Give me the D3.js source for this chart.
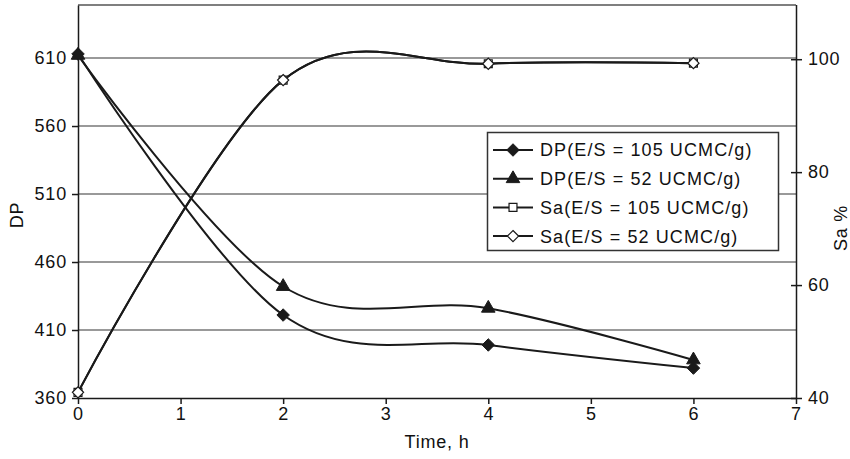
<!DOCTYPE html>
<html>
<head>
<meta charset="utf-8">
<title>DP and Sa vs time</title>
<script src="https://d3js.org/d3.v7.min.js"></script>
<style>
  body { margin: 0; background: #fff; }
  svg text { font-family: "Liberation Sans", Arial, sans-serif; fill: #111; }
</style>
</head>
<body>
<div id="chart"></div>
<script>
// data
var hours = [0, 2, 4, 6];
var dp105 = [613, 421, 399, 382];
var dp52 = [612, 442, 426, 388];
var sa105 = [41, 96.3, 99.2, 99.3];
var sa52 = [41, 96.3, 99.2, 99.3];
var dpTicks = [360, 410, 460, 510, 560, 610];
var saTicks = [40, 60, 80, 100];
var timeTicks = [0, 1, 2, 3, 4, 5, 6, 7];
var legendLabels = ["DP(E/S = 105 UCMC/g)", "DP(E/S = 52 UCMC/g)",
                    "Sa(E/S = 105 UCMC/g)", "Sa(E/S = 52 UCMC/g)"];

var W = 850, H = 459;
var pLeft = 78, pRight = 796, pTop = 5, pBottom = 398;

var svg = d3.select("#chart").append("svg")
  .attr("width", W).attr("height", H);

var x = d3.scaleLinear().domain([0, 7]).range([pLeft, pRight]);
var yL = d3.scaleLinear().domain([360, 649]).range([pBottom, pTop]);
var yR = d3.scaleLinear().domain([40, 109.6]).range([pBottom, pTop]);

// grid lines
svg.append("g").selectAll("line")
  .data(dpTicks.filter(d => d > 360))
  .join("line")
  .attr("x1", pLeft).attr("x2", pRight)
  .attr("y1", d => yL(d)).attr("y2", d => yL(d))
  .attr("stroke", "#777").attr("stroke-width", 1.5);

// top border
svg.append("line")
  .attr("x1", pLeft).attr("x2", pRight).attr("y1", pTop).attr("y2", pTop)
  .attr("stroke", "#555").attr("stroke-width", 1.5);

function styleAxis(g) {
  g.select(".domain").attr("stroke", "#1a1a1a").attr("stroke-width", 1.5);
  g.selectAll(".tick line").attr("stroke", "#1a1a1a").attr("stroke-width", 1.5);
  g.selectAll(".tick text")
    .style("font-size", "18px").style("letter-spacing", "0.8px").attr("fill", "#111");
}

var fmt = d3.format("d");

// left axis
svg.append("g")
  .attr("transform", "translate(" + pLeft + ",0)")
  .call(d3.axisLeft(yL).tickValues(dpTicks).tickFormat(fmt).tickSize(6).tickSizeOuter(0).tickPadding(5))
  .call(styleAxis);

// right axis (ticks cross the line)
svg.append("g")
  .attr("transform", "translate(" + pRight + ",0)")
  .call(d3.axisRight(yR).tickValues(saTicks).tickFormat(fmt).tickSize(6).tickSizeOuter(0).tickPadding(6))
  .call(styleAxis)
  .call(g => g.selectAll(".tick line").attr("x1", -5))
  .call(g => g.select(".domain").attr("d", "M0.5," + pTop + "V" + pBottom));

// bottom axis
svg.append("g")
  .attr("transform", "translate(0," + pBottom + ")")
  .call(d3.axisBottom(x).tickValues(timeTicks).tickFormat(fmt).tickSize(6).tickSizeOuter(0).tickPadding(3))
  .call(styleAxis);

// axis titles
svg.append("text")
  .attr("transform", "translate(23,215) rotate(-90)")
  .attr("text-anchor", "middle").style("font-size", "18px").style("letter-spacing", "0.8px")
  .text("DP");
svg.append("text")
  .attr("transform", "translate(847,228) rotate(-90)")
  .attr("text-anchor", "middle").style("font-size", "18px").style("letter-spacing", "0.8px")
  .text("Sa %");
svg.append("text")
  .attr("x", 437).attr("y", 448)
  .attr("text-anchor", "middle").style("font-size", "18px").style("letter-spacing", "0.8px")
  .text("Time, h");

var ink = "#1a1a1a";
var series = [
  {vals: dp105, y: yL, shape: d3.symbolDiamond2, size: 100, fill: ink},
  {vals: dp52, y: yL, shape: d3.symbolTriangle, size: 80, fill: ink},
  {vals: sa105, y: yR, shape: d3.symbolSquare2, size: 80, fill: "#fff"},
  {vals: sa52, y: yR, shape: d3.symbolDiamond2, size: 80, fill: "#fff"}
];

// Excel-style smoothing
var line = d3.line().curve(d3.curveCardinal.tension(0));

series.forEach(function(s) {
  var pts = hours.map((h, i) => [x(h), s.y(s.vals[i])]);
  svg.append("path")
    .attr("d", line(pts))
    .attr("fill", "none").attr("stroke", ink).attr("stroke-width", 2);
});

function drawMarker(g, s, cx, cy) {
  g.append("path")
    .attr("d", d3.symbol().type(s.shape).size(s.size)())
    .attr("transform", "translate(" + cx + "," + cy + ")")
    .attr("fill", s.fill)
    .attr("stroke", ink)
    .attr("stroke-width", s.fill === ink ? 1 : 1.2);
}

series.forEach(function(s) {
  hours.forEach(function(h, i) {
    drawMarker(svg, s, x(h), s.y(s.vals[i]));
  });
});

// legend
var lg = svg.append("g");
lg.append("rect")
  .attr("x", 487.5).attr("y", 132.5).attr("width", 291).attr("height", 118)
  .attr("fill", "#fff").attr("stroke", "#333").attr("stroke-width", 1.5);
legendLabels.forEach(function(lab, i) {
  var cy = 150 + i * 28.7;
  lg.append("line")
    .attr("x1", 493).attr("x2", 533).attr("y1", cy).attr("y2", cy)
    .attr("stroke", ink).attr("stroke-width", 2);
  drawMarker(lg, series[i], 513, cy);
  lg.append("text")
    .attr("x", 540).attr("y", cy).attr("dy", "0.36em")
    .style("font-size", "18px").style("letter-spacing", "1.1px")
    .text(lab);
});
</script>
</body>
</html>
